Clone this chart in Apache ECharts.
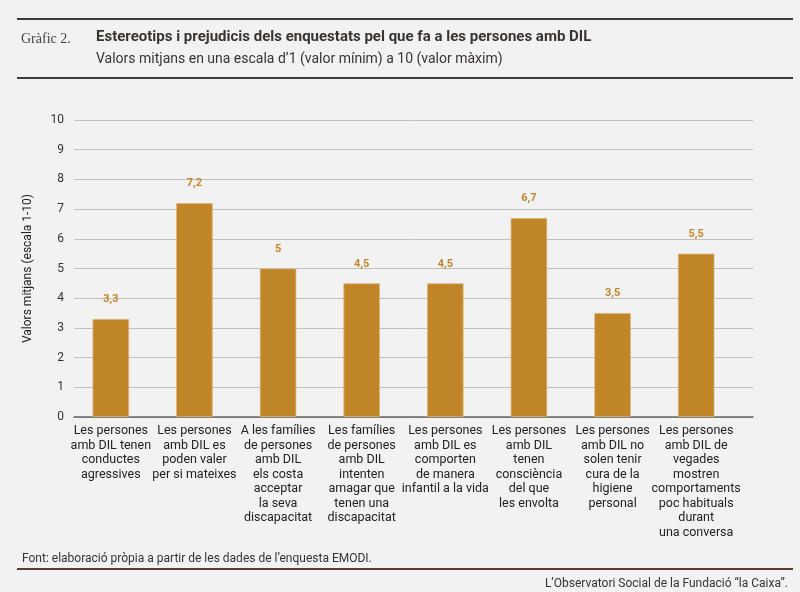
<!DOCTYPE html>
<html>
<head>
<meta charset="utf-8">
<script src="https://cdn.jsdelivr.net/npm/echarts@6/dist/echarts.min.js"></script>
<style>
html,body{margin:0;padding:0;background:#f2f2f2;}
#chart{width:800px;height:592px;}
</style>
</head>
<body>
<div id="chart"></div>
<script>
const categories = [
  "Les persones\namb DIL tenen\nconductes\nagressives",
  "Les persones\namb DIL es\npoden valer\nper si mateixes",
  "A les famílies\nde persones\namb DIL\nels costa\nacceptar\nla seva\ndiscapacitat",
  "Les famílies\nde persones\namb DIL\nintenten\namagar que\ntenen una\ndiscapacitat",
  "Les persones\namb DIL es\ncomporten\nde manera\ninfantil a la vida",
  "Les persones\namb DIL\ntenen\nconsciència\ndel que\nles envolta",
  "Les persones\namb DIL no\nsolen tenir\ncura de la\nhigiene\npersonal",
  "Les persones\namb DIL de\nvegades\nmostren\ncomportaments\npoc habituals\ndurant\nuna conversa"
];
const values = [3.3, 7.2, 5, 4.5, 4.5, 6.7, 3.5, 5.5];
const yTicks = [0, 10, 1];

const titleText = "Estereotips i prejudicis dels enquestats pel que fa a les persones amb DIL";
const subtitleText = "Valors mitjans en una escala d’1 (valor mínim) a 10 (valor màxim)";
const chartNum = "Gràfic 2.";
const sourceText = "Font: elaboració pròpia a partir de les dades de l’enquesta EMODI.";
const creditText = "L’Observatori Social de la Fundació “la Caixa”.";
const yName = "Valors mitjans (escala 1-10)";

const chart = echarts.init(document.getElementById('chart'), null, {renderer:'canvas'});
const font = 'Roboto, "Liberation Sans", sans-serif';
chart.setOption({
  backgroundColor: '#f2f2f2',
  animation: false,
  title: [
    {text: chartNum, left: 16, top: 27, textStyle:{fontFamily:'"Liberation Serif", "DejaVu Serif", serif', fontSize:14, fontWeight:'normal', color:'#444'}},
    {text: titleText, left: 91, top: 25, textStyle:{fontFamily:font, fontSize:15, fontWeight:'bold', color:'#3a3431'}},
    {text: subtitleText, left: 91, top: 47, textStyle:{fontFamily:font, fontSize:14, fontWeight:'normal', color:'#3a3431'}},
    {text: sourceText, left: 17, top: 548, textStyle:{fontFamily:font, fontSize:12, fontWeight:'normal', color:'#333'}},
    {text: creditText, right: 7, top: 573, textStyle:{fontFamily:font, fontSize:12, fontWeight:'normal', color:'#333'}}
  ],
  graphic: [
    {type:'line', shape:{x1:17,y1:19,x2:793,y2:19}, style:{stroke:'#3d3a38', lineWidth:2}},
    {type:'line', shape:{x1:17,y1:78,x2:793,y2:78}, style:{stroke:'#3d3a38', lineWidth:2}},
    {type:'line', shape:{x1:17,y1:569,x2:793,y2:569}, style:{stroke:'#5a3d35', lineWidth:2}}
  ],
  grid: [
    {left: 74, right: 47, top: 120, bottom: 175},
    {left: 69, right: 62, top: 120, bottom: 175}
  ],
  xAxis: [
    {gridIndex:0, type:'category', data: categories, axisLabel:{show:false}, axisTick:{show:false},
     axisLine:{show:true, lineStyle:{color:'#666', width:1.5}}},
    {gridIndex:1, type:'category', data: categories, axisTick:{show:false}, axisLine:{show:false},
     axisLabel:{interval:0, margin:7, fontFamily:font, fontSize:12.5, lineHeight:14.5, color:'#222', align:'center'}}
  ],
  yAxis: [
    {gridIndex:0, type:'value', min: yTicks[0], max: yTicks[1], interval: yTicks[2],
     name: yName, nameLocation:'middle', nameRotate:90, nameGap:40,
     nameTextStyle:{fontFamily:font, fontSize:12, color:'#222'},
     axisLine:{show:false}, axisTick:{show:false},
     axisLabel:{margin:10, fontFamily:font, fontSize:12, color:'#333'},
     splitLine:{show:true, lineStyle:{color:'#c0c0c0', width:1}}},
    {gridIndex:1, type:'value', min: yTicks[0], max: yTicks[1], interval: yTicks[2],
     axisLine:{show:false}, axisTick:{show:false}, axisLabel:{show:false}, splitLine:{show:false}}
  ],
  series: [{
    type:'bar', xAxisIndex:1, yAxisIndex:1, data: values, barWidth: 36.5,
    itemStyle:{color:'#bf8526', borderColor:'#d9b57a', borderWidth:0.8},
    label:{show:true, position:'top', distance:14, fontFamily:font, fontSize:11, fontWeight:'bold', color:'#c4862a',
      formatter: p => String(p.value).replace('.', ',')}
  }]
});
</script>
</body>
</html>
